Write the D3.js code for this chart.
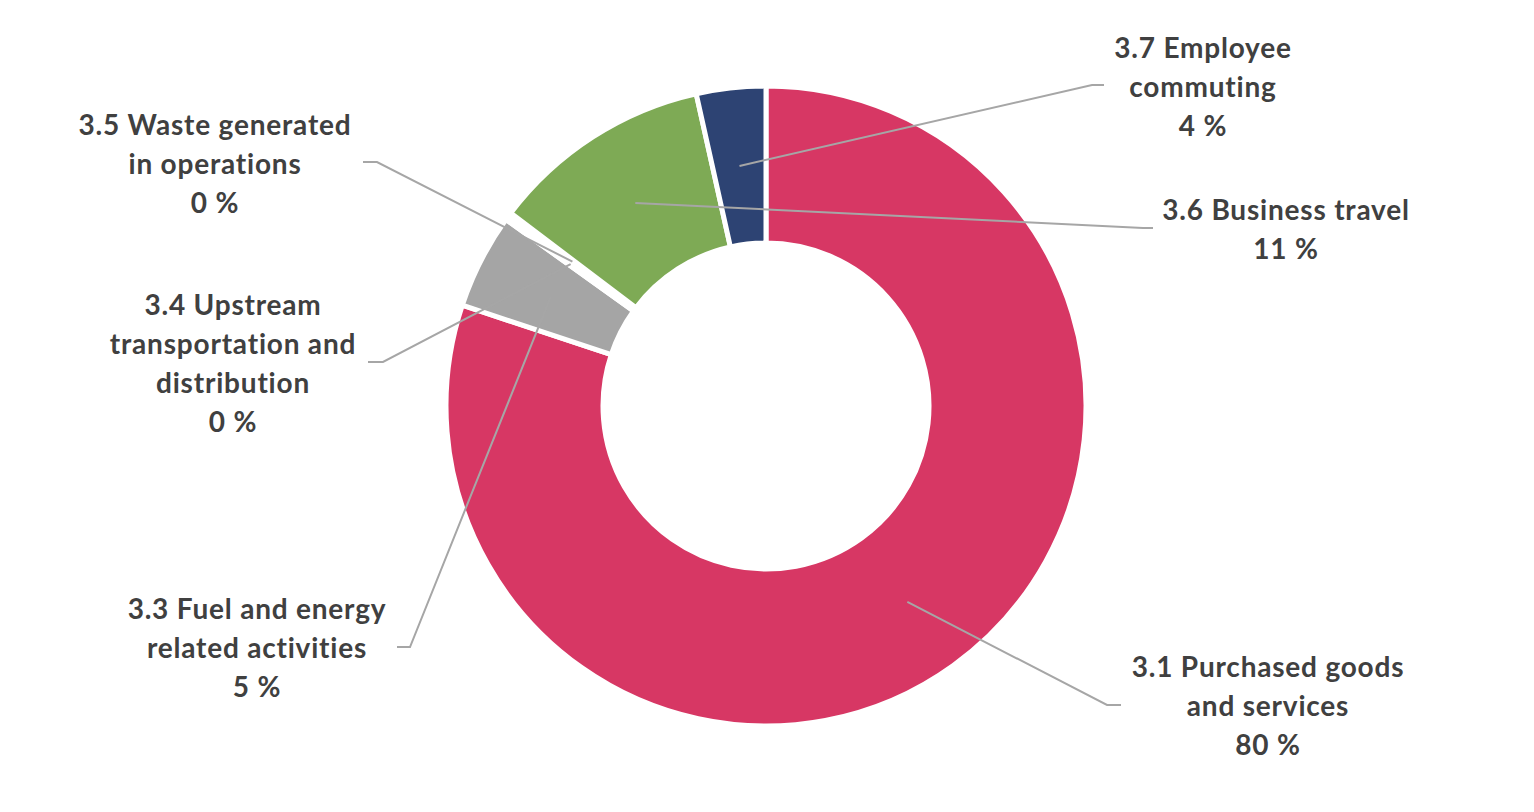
<!DOCTYPE html>
<html>
<head>
<meta charset="utf-8">
<script src="https://cdn.jsdelivr.net/npm/d3@7"></script>
<style>
  html, body { margin: 0; padding: 0; background: #fff; }
  svg text { font-family: Lato, "Open Sans", sans-serif; font-weight: 700; fill: #404040; letter-spacing: 0.8px; }
</style>
</head>
<body>
<script>
// scope 3 categories, clockwise from 12 o'clock
const categories = [
  "3.1 Purchased goods and services",
  "3.3 Fuel and energy related activities",
  "3.4 Upstream transportation and distribution",
  "3.5 Waste generated in operations",
  "3.6 Business travel",
  "3.7 Employee commuting"
];
const shares = [80.1, 4.8, 0.2, 0.2, 11.2, 3.5];
const labelLines = [
  ["3.1 Purchased goods", "and services"],
  ["3.3 Fuel and energy", "related activities"],
  ["3.4 Upstream", "transportation and", "distribution"],
  ["3.5 Waste generated", "in operations"],
  ["3.6 Business travel"],
  ["3.7 Employee", "commuting"]
];
const colors = ["#D73764", "#A5A5A5", "#8FA8D0", "#E8A33C", "#7EAA55", "#2D4373"];

// label layout: text centre x, first line middle y, leader elbow and end
const layout = [
  {x: 1268, y: 667, elbow: [1107, 705], end: [1121, 705]},
  {x: 257,  y: 609, elbow: [410, 647],  end: [397, 647]},
  {x: 233,  y: 305, elbow: [383, 362],  end: [368, 362]},
  {x: 215,  y: 125, elbow: [377, 162],  end: [363, 162]},
  {x: 1286, y: 210, elbow: [1143, 228], end: [1153, 228]},
  {x: 1203, y: 48,  elbow: [1092, 85],  end: [1104, 85]}
];

const width = 1534, height = 812;
const cx = 766, cy = 406;
const lineH = 39;

const data = categories.map((c, i) => ({name: c, value: shares[i], lines: labelLines[i], color: colors[i], pos: layout[i]}));

const pie = d3.pie().sort(null).value(d => d.value);
const arc = d3.arc().innerRadius(163).outerRadius(320);

const svg = d3.select("body").append("svg")
  .attr("width", width)
  .attr("height", height);

const g = svg.append("g").attr("transform", `translate(${cx},${cy})`);

const arcs = pie(data);

g.selectAll("path.slice")
  .data(arcs)
  .join("path")
  .attr("class", "slice")
  .attr("d", arc)
  .attr("fill", d => d.data.color)
  .attr("stroke", "#fff")
  .attr("stroke-width", 5);

// leader lines from slice centroid to label
const line = d3.line();
svg.selectAll("path.leader")
  .data(arcs)
  .join("path")
  .attr("class", "leader")
  .attr("d", d => {
    const c = arc.centroid(d);
    return line([[c[0] + cx, c[1] + cy], d.data.pos.elbow, d.data.pos.end]);
  })
  .attr("fill", "none")
  .attr("stroke", "#A6A6A6")
  .attr("stroke-width", 2);

const labels = svg.selectAll("text.label")
  .data(arcs)
  .join("text")
  .attr("class", "label")
  .attr("text-anchor", "middle")
  .attr("font-size", 28);

labels.each(function(d) {
  const t = d3.select(this);
  const rows = d.data.lines.concat([Math.round(d.data.value) + " %"]);
  rows.forEach((r, i) => {
    t.append("tspan")
      .attr("x", d.data.pos.x)
      .attr("y", d.data.pos.y + i * lineH + 10)
      .text(r);
  });
});
</script>
</body>
</html>
